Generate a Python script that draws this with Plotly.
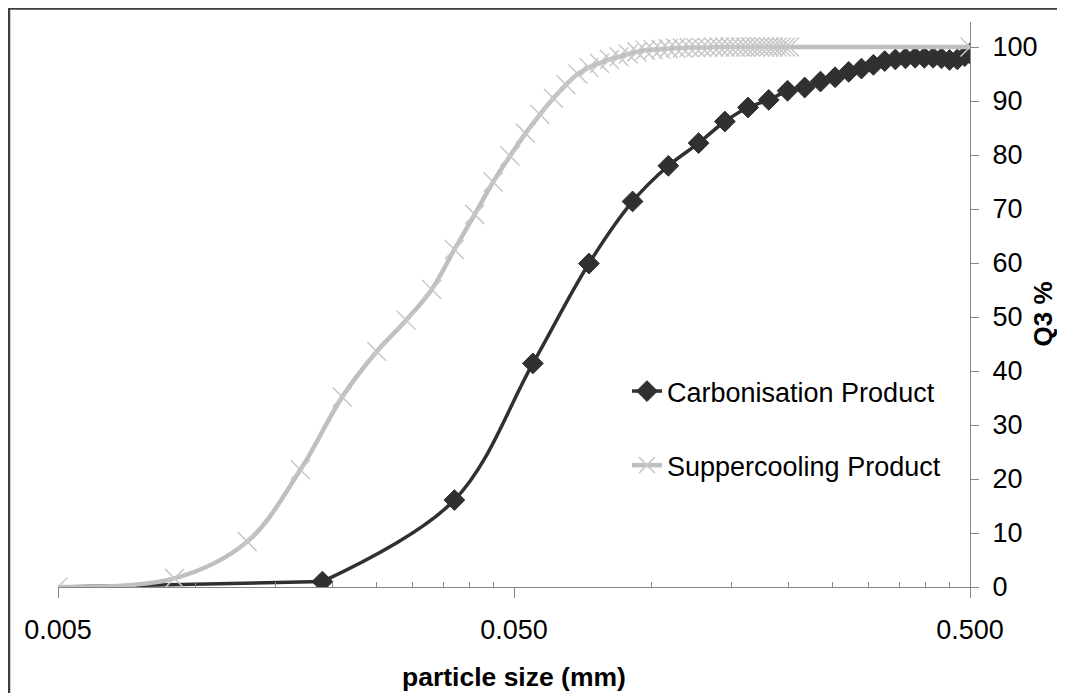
import plotly.graph_objects as go

# ---------------- data ----------------
carb_x = [0.005, 0.019, 0.037, 0.055, 0.073, 0.091, 0.109, 0.127, 0.145, 0.163,
          0.181, 0.199, 0.217, 0.235, 0.253, 0.271, 0.289, 0.307, 0.325, 0.343,
          0.361, 0.379, 0.397, 0.415, 0.433, 0.451, 0.469, 0.487, 0.5]
carb_y = [0.0, 1.0, 16.1, 41.4, 59.9, 71.4, 78.0, 82.2, 86.2, 88.8,
          90.2, 91.9, 92.5, 93.6, 94.4, 95.4, 96.0, 96.7, 97.4, 97.7,
          97.9, 98.0, 98.0, 98.0, 97.9, 97.6, 97.7, 98.3, 98.8]

super_x = [0.005, 0.009, 0.013, 0.017, 0.021, 0.025, 0.029, 0.033, 0.037, 0.041,
           0.045, 0.049, 0.053, 0.057, 0.061, 0.065, 0.069, 0.073, 0.077, 0.081,
           0.085, 0.089, 0.093, 0.097, 0.101, 0.105, 0.109, 0.113, 0.117, 0.121,
           0.125, 0.129, 0.133, 0.137, 0.141, 0.145, 0.149, 0.153, 0.157, 0.161,
           0.165, 0.169, 0.173, 0.177, 0.181, 0.185, 0.189, 0.193, 0.197, 0.201,
           0.5]
super_y = [0.0, 1.6, 8.4, 21.7, 35.2, 43.6, 49.4, 55.1, 62.5, 69.0,
           75.0, 79.8, 84.0, 87.5, 90.5, 93.0, 95.0, 96.2, 97.0, 97.7,
           98.2, 98.7, 99.1, 99.4, 99.5, 99.6, 99.7, 99.8, 99.8, 99.9,
           99.9, 99.9, 99.9, 100, 100, 100, 100, 100, 100, 100,
           100, 100, 100, 100, 100, 100, 100, 100, 100, 100,
           100]

x_major = [0.005, 0.05, 0.5]
x_major_labels = ["0.005", "0.050", "0.500"]
x_minor = [0.01, 0.015, 0.02, 0.025, 0.03, 0.035, 0.04, 0.045,
           0.1, 0.15, 0.2, 0.25, 0.3, 0.35, 0.4, 0.45]
y_ticks = [0, 10, 20, 30, 40, 50, 60, 70, 80, 90, 100]

names = ["Carbonisation Product", "Suppercooling Product"]
x_title = "particle size (mm)"
y_title = "Q3 %"

# ---------------- layout constants ----------------
# page body has an 8 px margin; figure fills the rest of the window
W, H = 1057, 685
ML, MR, MT, MB = 50, 95, 14, 106
FONT = "Liberation Sans, Arial, sans-serif"
FS = 27
AXIS_COL = "#868686"
DARK = "#303030"
GRAY_LINE = "#bfbfbf"
GRAY_MK = "#c8c8c8"

pw = W - ML - MR
ph = H - MT - MB
y_top = 100 + 100 * (ph - 540) / 540  # axis line extends a little above 100

fig = go.Figure()

# flat tail of the carbonisation curve (first two points, straight)
fig.add_trace(go.Scatter(
    x=carb_x[:2], y=carb_y[:2], mode="lines", showlegend=False,
    hoverinfo="skip", line=dict(color=DARK, width=3.5),
))
fig.add_trace(go.Scatter(
    x=carb_x[1:], y=carb_y[1:], name=names[0], legendgroup="a",
    mode="lines+markers",
    line=dict(color=DARK, width=3.5, shape="spline", smoothing=1.0),
    marker=dict(symbol="diamond", color=DARK, size=16, opacity=1,
                line=dict(width=1, color=DARK)),
))
fig.add_trace(go.Scatter(
    x=super_x, y=super_y, name=names[1], legendgroup="b",
    mode="lines+markers",
    line=dict(color=GRAY_LINE, width=4.5, shape="spline", smoothing=1.0),
    marker=dict(symbol="x-thin", size=19, color=GRAY_MK,
                line=dict(color=GRAY_MK, width=1.5)),
))

fig.update_layout(
    width=W, height=H,
    margin=dict(l=ML, r=MR, t=MT, b=MB),
    paper_bgcolor="white", plot_bgcolor="white",
    font=dict(family=FONT, size=FS, color="black"),
    showlegend=True,
    legend=dict(x=(619 - ML) / pw, xanchor="left",
                y=(H - MB - 359) / ph, yanchor="top",
                bgcolor="rgba(0,0,0,0)", tracegroupgap=36,
                font=dict(size=FS), itemwidth=30),
    xaxis=dict(type="log", range=[-2.30103, -0.30103],
               showgrid=False, zeroline=False,
               showline=True, linecolor=AXIS_COL, linewidth=1.3,
               tickmode="array", tickvals=x_major, ticktext=x_major_labels,
               ticks="outside", ticklen=10, tickcolor=AXIS_COL, tickwidth=1.3,
               ticklabelstandoff=8,
               minor=dict(tickmode="array", tickvals=x_minor, ticks="inside",
                          ticklen=5, tickcolor=AXIS_COL, tickwidth=1.2,
                          showgrid=False),
               tickfont=dict(size=FS)),
    yaxis=dict(range=[0, y_top], side="right",
               showgrid=False, zeroline=False,
               showline=True, linecolor=AXIS_COL, linewidth=1.3,
               tickmode="array", tickvals=y_ticks,
               ticks="outside", ticklen=8, tickcolor=AXIS_COL, tickwidth=1.3,
               ticklabelstandoff=8,
               tickfont=dict(size=FS)),
    annotations=[
        dict(text="<b>%s</b>" % x_title, xref="paper", yref="paper",
             x=0.5, y=0, xanchor="center", yanchor="middle",
             yshift=-90, showarrow=False, font=dict(size=26.5)),
        dict(text="<b>%s</b>" % y_title, xref="paper", yref="paper",
             x=1, y=0.5, xanchor="center", yanchor="middle",
             xshift=1034 - (W - MR), yshift=-10, textangle=-90,
             showarrow=False, font=dict(size=26)),
    ],
    shapes=[
        dict(type="line", xref="paper", yref="paper",
             x0=(1 - ML) / pw, x1=(1 - ML) / pw,
             y0=-(MB + 5) / ph, y1=(ph + MT) / ph,
             line=dict(color="#3f3f3f", width=2.5), layer="below"),
        dict(type="line", xref="paper", yref="paper",
             x0=(1 - ML) / pw, x1=(W + 5 - ML) / pw,
             y0=(ph + MT - 0.5) / ph, y1=(ph + MT - 0.5) / ph,
             line=dict(color="#3f3f3f", width=2.5), layer="below"),
    ],
)

fig.write_html("out.html", post_script="document.body.style.overflow='hidden';")
